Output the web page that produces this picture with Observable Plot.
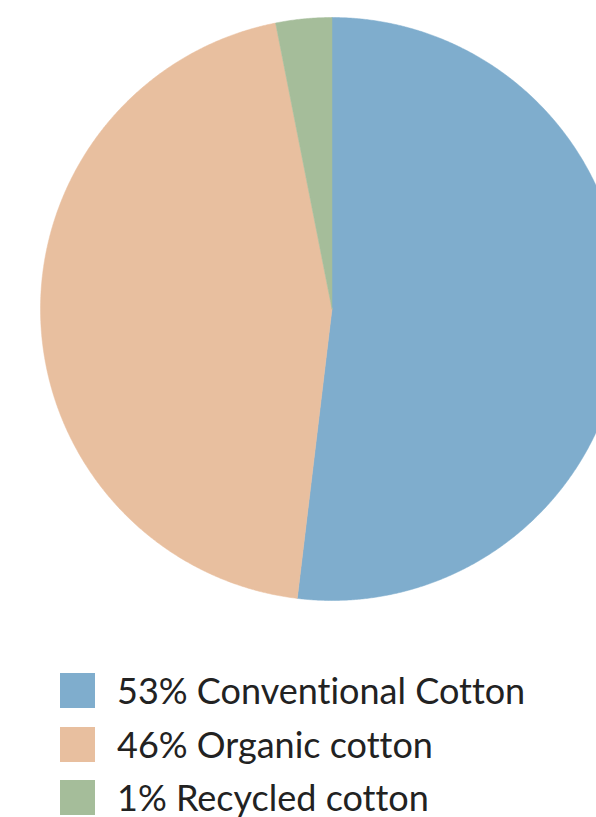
<!DOCTYPE html>
<html>
<head>
<meta charset="utf-8">
<script src="https://cdn.jsdelivr.net/npm/d3@7"></script>
<script src="https://cdn.jsdelivr.net/npm/@observablehq/plot@0.6"></script>
<style>
  html, body { margin: 0; padding: 0; background: #fff; }
  body { position: relative; width: 596px; height: 817px; overflow: hidden; }
  #chart { position: absolute; left: 0; top: 0; }
  #chart svg { display: block; }
  .row { position: absolute; left: 60px; height: 35px; display: flex; align-items: center; font-family: Lato, "Open Sans", sans-serif; font-size: 36px; font-weight: 400; line-height: 35px; color: #222; white-space: nowrap; font-variant-ligatures: none; }
  .sw { width: 35px; height: 35px; margin-right: 22px; flex: none; }
</style>
</head>
<body>
<div id="chart"></div>
<script>
const categories = ["Conventional Cotton", "Organic cotton", "Recycled cotton"];
const values = [51.9, 45.0, 3.1];
const labels = ["53% Conventional Cotton", "46% Organic cotton", "1% Recycled cotton"];
const colors = ["#7fadcd", "#e8bf9f", "#a5bd9a"];

const W = 596, H = 640;
const cx = 331.5, cy = 308.5, R = 291.5;

const data = categories.map((c, i) => ({category: c, value: values[i], color: colors[i]}));
const arcs = d3.pie().sort(null).value(d => d.value)(data);

const marks = arcs.map(a => {
  const pts = [{x: 0, y: 0}];
  const n = Math.max(4, Math.ceil((a.endAngle - a.startAngle) / 0.005));
  for (let k = 0; k <= n; k++) {
    const t = a.startAngle + (a.endAngle - a.startAngle) * k / n;
    pts.push({x: Math.sin(t), y: Math.cos(t)});
  }
  pts.push({x: 0, y: 0});
  return Plot.line(pts, {x: "x", y: "y", fill: a.data.color, stroke: a.data.color, strokeWidth: 0.5, curve: "linear-closed"});
});

const chart = Plot.plot({
  width: W,
  height: H,
  margin: 0,
  x: {type: "linear", domain: [-cx / R, (W - cx) / R], range: [0, W], axis: null},
  y: {type: "linear", domain: [cy / R, -(H - cy) / R], range: [0, H], axis: null},
  marks
});
document.getElementById("chart").appendChild(chart);

labels.forEach((l, i) => {
  const row = document.createElement("div");
  row.className = "row";
  row.style.top = (673 + i * 53.5) + "px";
  row.innerHTML = `<div class="sw" style="background:${colors[i]}"></div><span>${l}</span>`;
  document.body.appendChild(row);
});
</script>
</body>
</html>
